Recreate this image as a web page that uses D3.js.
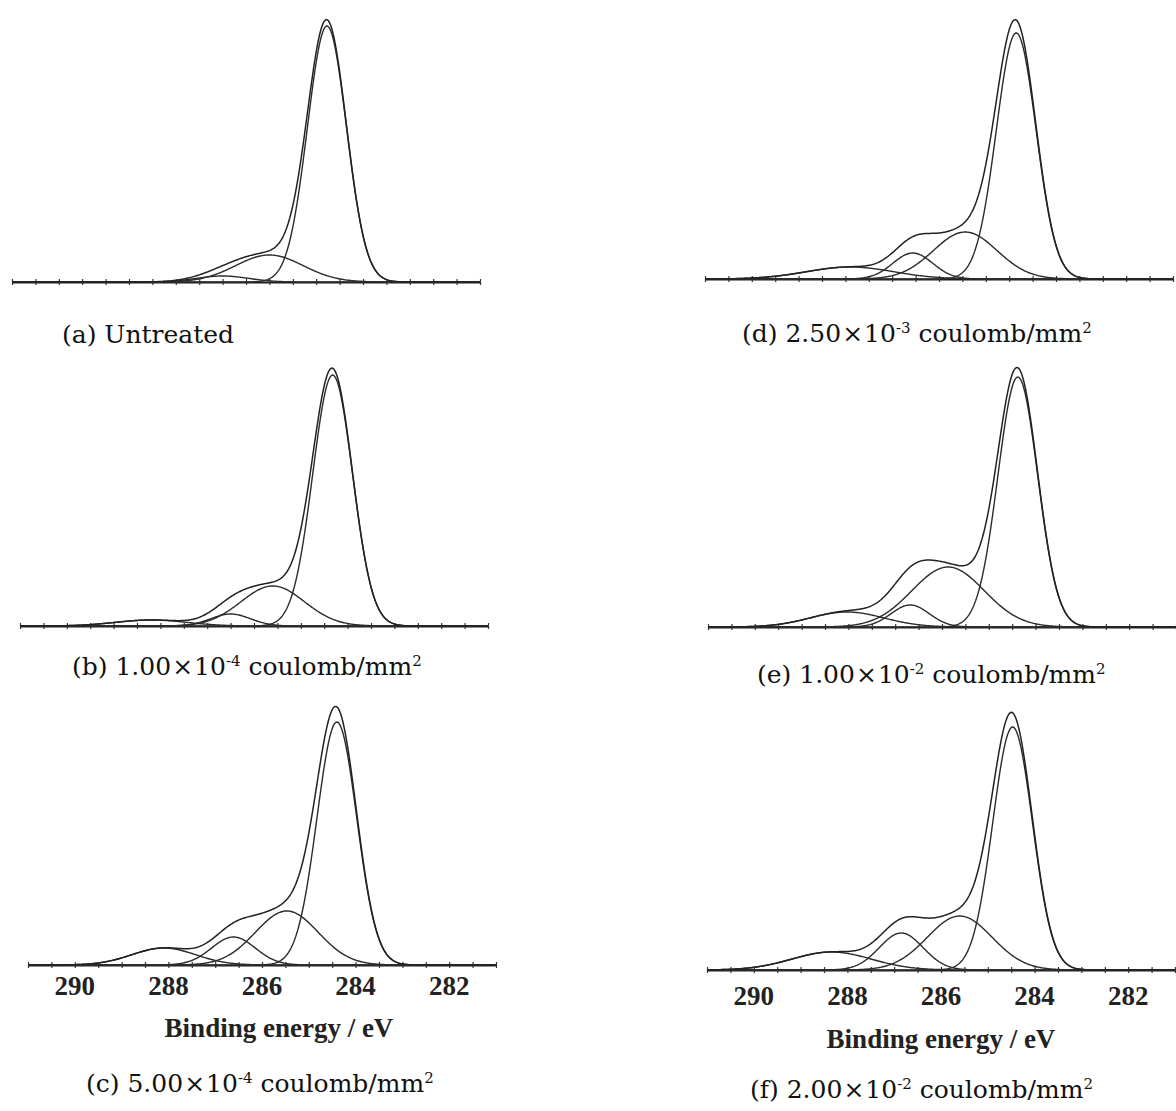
<!DOCTYPE html>
<html>
<head>
<meta charset="utf-8">
<script src="https://cdn.jsdelivr.net/npm/d3@7"></script>
<style>
  body { margin: 0; background: #fff; }
  svg { display: block; }
</style>
</head>
<body>
<div id="root"></div>
<script>
// binding energy axis shared by all six C1s spectra
var energyDomain = [291, 281];
var tickLabels = [290, 288, 286, 284, 282];

var panelLetters = ['a', 'b', 'c', 'd', 'e', 'f'];
var doseMantissa = [null, '1.00', '5.00', '2.50', '1.00', '2.00'];
var doseExponent = [null, '-4', '-4', '-3', '-2', '-2'];

// fitted components per spectrum: centre (eV), height (a.u.), FWHM (eV)
var peakCentres = [
  [284.27, 285.50, 286.50],
  [284.32, 285.60, 286.50, 288.20],
  [284.40, 285.47, 286.61, 288.10],
  [284.35, 285.44, 286.56, 287.90],
  [284.38, 285.87, 286.68, 288.03],
  [284.47, 285.60, 286.85, 288.34]
];
var peakHeights = [
  [256, 27, 6],
  [251, 40, 12, 6],
  [243, 54, 28, 17],
  [246, 47, 26, 12],
  [250, 60, 22, 15],
  [243, 54, 37, 18]
];
var peakFwhm = [
  [0.98, 1.70, 1.30],
  [1.00, 1.60, 1.00, 1.80],
  [1.00, 1.58, 1.10, 1.60],
  [1.00, 1.60, 1.00, 2.20],
  [1.00, 1.82, 0.96, 1.85],
  [1.00, 1.63, 1.10, 2.00]
];

// layout: left end of each energy axis and the axis baseline
var layout = [
  {x0: 12, y0: 282, capX: 62, capY: 343},
  {x0: 20, y0: 626, capX: 72, capY: 675},
  {x0: 28, y0: 965, capX: 86, capY: 1092, labelDy: 30, titleX: 279, titleY: 1037},
  {x0: 705, y0: 279, capX: 742, capY: 342},
  {x0: 708, y0: 627, capX: 757, capY: 683},
  {x0: 707, y0: 970, capX: 750, capY: 1098, labelDy: 35, titleX: 941, titleY: 1048}
];
var axisLength = 468;
var plotHeight = 260;

var svg = d3.select('#root')
  .append('svg')
    .attr('width', 1176)
    .attr('height', 1111);

var grid = d3.range(energyDomain[1], energyDomain[0] + 0.001, 0.02);

var gauss = (e, c, h, w) => {
  var s = w / 2.3548;
  return h * Math.exp(-(e - c) * (e - c) / (2 * s * s));
};

panelLetters.forEach((id, p) => {
  var L = layout[p];
  var x = d3.scaleLinear().domain(energyDomain).range([L.x0, L.x0 + axisLength]);
  var y = d3.scaleLinear().domain([0, plotHeight]).range([L.y0, L.y0 - plotHeight]);

  var line = d3.line()
    .x(d => x(d[0]))
    .y(d => y(d[1]));

  var comps = peakCentres[p].map((c, i) => grid.map(e => [e, gauss(e, c, peakHeights[p][i], peakFwhm[p][i])]));
  var envelope = grid.map((e, k) => [e, d3.sum(comps, cp => cp[k][1])]);

  var g = svg.append('g');

  // axis with small crossing ticks every 0.5 eV
  var ax = g.append('g')
    .attr('transform', 'translate(0,' + L.y0 + ')')
    .call(d3.axisBottom(x).ticks(20).tickSize(3).tickSizeOuter(0).tickFormat(''));
  ax.select('.domain').attr('stroke', '#1e1e1e').attr('stroke-width', 1.8);
  ax.selectAll('.tick line').attr('y1', -3).attr('stroke', '#333').attr('stroke-width', 1.2);

  comps.forEach(cp => {
    g.append('path')
      .datum(cp)
      .attr('d', line)
      .attr('fill', 'none')
      .attr('stroke', '#2b2b2b')
      .attr('stroke-width', 1.4);
  });
  g.append('path')
    .datum(envelope)
    .attr('d', line)
    .attr('fill', 'none')
    .attr('stroke', '#222')
    .attr('stroke-width', 1.5);

  if (L.labelDy) {
    g.selectAll('.elabel')
      .data(tickLabels)
      .enter()
      .append('text')
        .attr('x', d => x(d))
        .attr('y', L.y0 + L.labelDy)
        .attr('text-anchor', 'middle')
        .attr('font-family', 'Liberation Serif')
        .attr('font-weight', 'bold')
        .attr('font-size', 27)
        .attr('fill', '#222')
        .text(d => d);
    g.append('text')
      .attr('x', L.titleX)
      .attr('y', L.titleY)
      .attr('text-anchor', 'middle')
      .attr('font-family', 'Liberation Serif')
      .attr('font-weight', 'bold')
      .attr('font-size', 27)
      .attr('fill', '#222')
      .text('Binding energy / eV');
  }

  var t = g.append('text')
    .attr('x', L.capX)
    .attr('y', L.capY)
    .attr('font-family', 'DejaVu Serif')
    .attr('font-size', 25)
    .attr('fill', '#111');
  if (!doseMantissa[p]) {
    t.text('(' + id + ') Untreated');
  } else {
    t.append('tspan').text('(' + id + ') ' + doseMantissa[p]);
    t.append('tspan').attr('dx', 1).text('×');
    t.append('tspan').attr('dx', 1).text('10');
    t.append('tspan').attr('dy', -9).attr('font-size', 15).text(doseExponent[p]);
    t.append('tspan').attr('dy', 9).text(' coulomb/mm');
    t.append('tspan').attr('dy', -9).attr('font-size', 15).text('2');
  }
});
</script>
</body>
</html>
